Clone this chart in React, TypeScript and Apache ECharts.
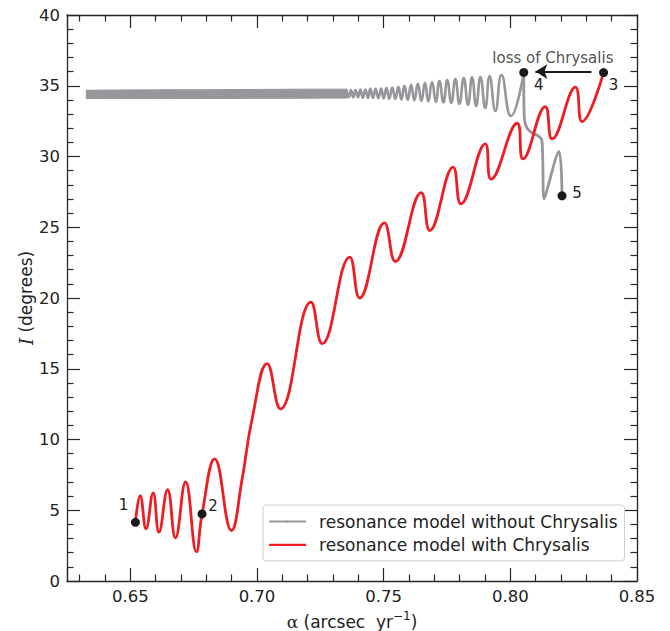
import React, { useEffect, useRef } from 'react';
import * as echarts from 'echarts';

// ---- data ----
const xMajorTicks = [0.65, 0.7, 0.75, 0.8, 0.85];
const yMajorTicks = [0, 5, 10, 15, 20, 25, 30, 35, 40];

const redName = 'resonance model with Chrysalis';
const grayName = 'resonance model without Chrysalis';

const redX = [0.6520, 0.6539, 0.6562, 0.6590, 0.6613, 0.6647, 0.6678, 0.6718, 0.6761, 0.6783,
  0.6833, 0.6899, 0.6941, 0.6980, 0.7040, 0.7092, 0.7213, 0.7257, 0.7366, 0.7405,
  0.7503, 0.7546, 0.7648, 0.7682, 0.7774, 0.7805, 0.7901, 0.7924, 0.8027, 0.8050,
  0.8138, 0.8165, 0.8257, 0.8283, 0.8368];
const redY = [4.15, 6.04, 3.69, 6.23, 3.45, 6.46, 3.05, 7.00, 2.06, 4.74,
  8.63, 3.57, 7.17, 11.40, 15.36, 12.16, 19.71, 16.77, 22.89, 20.00,
  25.31, 22.58, 27.45, 24.77, 29.25, 26.65, 30.89, 28.40, 32.35, 29.83,
  33.53, 31.24, 34.90, 32.47, 35.93];

// gray: from point 5 up to point 4
const grayTailX = [0.8204, 0.8192, 0.8133, 0.8128, 0.8124, 0.8107, 0.8086, 0.8066, 0.8055, 0.8053];
const grayTailY = [27.22, 30.36, 27.01, 29.76, 31.17, 31.49, 31.67, 32.00, 32.73, 35.94];

// gray: resolved oscillations from point 4 leftwards
const grayWaveX = [0.8053, 0.8002, 0.7965, 0.7941, 0.7918, 0.7901, 0.7882, 0.7865, 0.7849, 0.7833,
  0.7816, 0.7799, 0.7783, 0.7767, 0.7751, 0.7736, 0.7720, 0.7706, 0.7691, 0.7676,
  0.7663, 0.7649, 0.7635, 0.7621, 0.7608, 0.7595, 0.7582, 0.7570, 0.7558, 0.7546,
  0.7534, 0.7522, 0.7511, 0.7500, 0.7490, 0.7479, 0.7468, 0.7458, 0.7447, 0.7438,
  0.7428, 0.7418, 0.7408, 0.7399, 0.7389, 0.7380, 0.7371, 0.7363, 0.7354];
const grayWaveY = [35.94, 32.87, 35.76, 33.22, 35.69, 33.43, 35.62, 33.57, 35.59, 33.65,
  35.55, 33.72, 35.48, 33.79, 35.41, 33.82, 35.34, 33.86, 35.27, 33.89,
  35.20, 33.93, 35.13, 33.96, 35.06, 34.00, 34.99, 34.03, 34.92, 34.07,
  34.88, 34.09, 34.85, 34.10, 34.81, 34.12, 34.78, 34.14, 34.78, 34.14,
  34.74, 34.16, 34.74, 34.18, 34.70, 34.18, 34.70, 34.19, 34.70];

// gray: unresolved dense oscillations (envelope of the band)
const bandX = [0.6326, 0.6450, 0.6600, 0.6800, 0.7000, 0.7200, 0.7356];
const bandUpper = [34.68, 34.70, 34.71, 34.72, 34.74, 34.76, 34.76];
const bandLower = [34.10, 34.09, 34.09, 34.10, 34.11, 34.12, 34.13];

const pointX = [0.6520, 0.6783, 0.8368, 0.8053, 0.8204];
const pointY = [4.15, 4.74, 35.93, 35.94, 27.22];
const pointLabels = ['1', '2', '3', '4', '5'];

const arrowFrom = [0.8320, 36.0];
const arrowTo = [0.8099, 36.0];
const noteText = 'loss of Chrysalis';
const notePos = [0.8168, 36.98];

// ---- styles ----
const FONT = 'DejaVu Sans';
const TEXT = '#222222';
const FRAME = '#262626';
const RED = '#ee1d23';
const GRAY = '#97979b';
const labelOffsets = [[-12, -17], [11, -8], [10, 12.5], [15, 12.5], [15, -3]];

const zip = (xs: number[], ys: number[]) => xs.map((x, i) => [x, ys[i]]);

const isMajor = (v: number) => xMajorTicks.some((t) => Math.abs(t - v) < 1e-6);

function makeX(position: 'bottom' | 'top', labels: boolean) {
  return {
    type: 'value',
    position,
    min: 0.625,
    max: 0.85,
    minInterval: 0.05,
    maxInterval: 0.05,
    axisLine: { show: true, onZero: false, lineStyle: { color: FRAME, width: 1.3 } },
    axisTick: { show: true, inside: true, length: 13, lineStyle: { color: FRAME, width: 1.2 } },
    minorTick: { show: true, splitNumber: 5, length: 6.5, lineStyle: { color: FRAME, width: 1.2 } },
    splitLine: { show: false },
    minorSplitLine: { show: false },
    axisLabel: {
      show: labels,
      margin: 7,
      fontSize: 16.5,
      fontFamily: FONT,
      color: TEXT,
      formatter: (v: number) => (isMajor(v) ? v.toFixed(2) : ''),
    },
  };
}

function makeY(position: 'left' | 'right', labels: boolean) {
  return {
    type: 'value',
    position,
    min: yMajorTicks[0],
    max: yMajorTicks[yMajorTicks.length - 1],
    interval: 5,
    axisLine: { show: true, onZero: false, lineStyle: { color: FRAME, width: 1.3 } },
    axisTick: { show: true, inside: true, length: 13, lineStyle: { color: FRAME, width: 1.2 } },
    minorTick: { show: true, splitNumber: 5, length: 6.5, lineStyle: { color: FRAME, width: 1.2 } },
    splitLine: { show: false },
    minorSplitLine: { show: false },
    axisLabel: { show: labels, margin: 7, fontSize: 16.5, fontFamily: FONT, color: TEXT },
  };
}

export default function App() {
  const ref = useRef<HTMLDivElement>(null);
  useEffect(() => {
    if (!ref.current) return;
    const chart = echarts.init(ref.current, null, { renderer: 'svg' });
    const xBottom: any = makeX('bottom', true);
    xBottom.name = '{a|α} (arcsec  yr{s|−1})';
    xBottom.nameLocation = 'middle';
    xBottom.nameGap = 29;
    xBottom.nameMoveOverlap = false;
    xBottom.nameTextStyle = {
      fontSize: 17, fontFamily: FONT, color: TEXT, lineHeight: 24,
      rich: {
        a: { fontFamily: 'DejaVu Serif', fontSize: 17, color: TEXT, lineHeight: 24 },
        s: { fontSize: 12, fontFamily: FONT, color: TEXT, verticalAlign: 'top', lineHeight: 12 },
      },
    };
    const yLeft: any = makeY('left', true);
    yLeft.name = '{i|I} (degrees)';
    yLeft.nameLocation = 'middle';
    yLeft.nameRotate = 90;
    yLeft.nameGap = 32;
    yLeft.nameMoveOverlap = false;
    yLeft.nameTextStyle = {
      fontSize: 17, fontFamily: FONT, color: TEXT,
      rich: { i: { fontFamily: 'DejaVu Serif', fontStyle: 'italic', fontSize: 18, color: TEXT } },
    };

    const option: any = {
      animation: false,
      backgroundColor: '#ffffff',
      grid: { left: 67, right: 33, top: 15, bottom: 50, containLabel: false, outerBoundsMode: 'none' },
      xAxis: [xBottom, makeX('top', false)],
      yAxis: [yLeft, makeY('right', false)],
      legend: {
        data: [grayName, redName],
        orient: 'vertical',
        left: 263,
        top: 505,
        itemWidth: 37,
        itemHeight: 2,
        itemGap: 3.3,
        padding: [6.5, 7, 6, 5],
        backgroundColor: '#ffffff',
        borderColor: '#cfcfcf',
        borderWidth: 1,
        borderRadius: 3,
        selectedMode: false,
        lineStyle: { width: 2.2 },
        textStyle: { fontSize: 17, fontFamily: FONT, color: TEXT, lineHeight: 20, padding: [0, 0, 0, 8] },
      },
      series: [
        {
          type: 'custom',
          name: 'band',
          xAxisIndex: 0,
          yAxisIndex: 0,
          silent: true,
          z: 2,
          data: [[bandX[0], bandLower[0]]],
          renderItem: (_params: any, api: any) => {
            const pts: number[][] = [];
            bandX.forEach((x, i) => pts.push(api.coord([x, bandUpper[i]])));
            for (let i = bandX.length - 1; i >= 0; i--) pts.push(api.coord([bandX[i], bandLower[i]]));
            return {
              type: 'polygon',
              shape: { points: pts },
              style: { fill: GRAY, stroke: GRAY, lineWidth: 1, lineJoin: 'round' },
            };
          },
        },
        {
          type: 'line',
          name: grayName,
          data: zip(grayTailX, grayTailY),
          smooth: 0.3,
          symbol: 'none',
          lineStyle: { color: GRAY, width: 2.8 },
          itemStyle: { color: GRAY },
          z: 3,
        },
        {
          type: 'line',
          name: grayName,
          data: zip(grayWaveX, grayWaveY),
          smooth: 0.5,
          symbol: 'none',
          lineStyle: { color: GRAY, width: 2.6 },
          itemStyle: { color: GRAY },
          z: 3,
        },
        {
          type: 'line',
          name: redName,
          data: zip(redX, redY),
          smooth: 0.45,
          symbol: 'none',
          lineStyle: { color: RED, width: 2.8 },
          itemStyle: { color: RED },
          z: 4,
        },
        {
          type: 'scatter',
          name: 'points',
          symbolSize: 9,
          itemStyle: { color: '#1a1a1a', opacity: 1 },
          z: 6,
          data: pointX.map((x, i) => ({
            value: [x, pointY[i]],
            label: {
              show: true,
              formatter: pointLabels[i],
              position: 'inside',
              offset: labelOffsets[i],
              fontSize: 15,
              fontFamily: FONT,
              color: TEXT,
            },
          })),
          markLine: {
            silent: true,
            animation: false,
            symbol: ['none', 'arrow'],
            symbolSize: [11, 12],
            label: { show: false },
            lineStyle: { color: '#1a1a1a', width: 2, type: 'solid' },
            data: [[{ coord: arrowFrom }, { coord: arrowTo }]],
          },
        },
        {
          type: 'scatter',
          name: 'note',
          symbolSize: 0,
          silent: true,
          z: 6,
          data: [{
            value: notePos,
            label: {
              show: true,
              formatter: noteText,
              position: 'inside',
              fontSize: 15,
              fontFamily: FONT,
              color: TEXT,
            },
          }],
        },
      ],
    };
    chart.setOption(option);
    return () => chart.dispose();
  }, []);
  return (
    <div
      ref={ref}
      style={{ position: 'fixed', left: 0, top: 0, width: 670, height: 631, background: '#fff' }}
    />
  );
}
